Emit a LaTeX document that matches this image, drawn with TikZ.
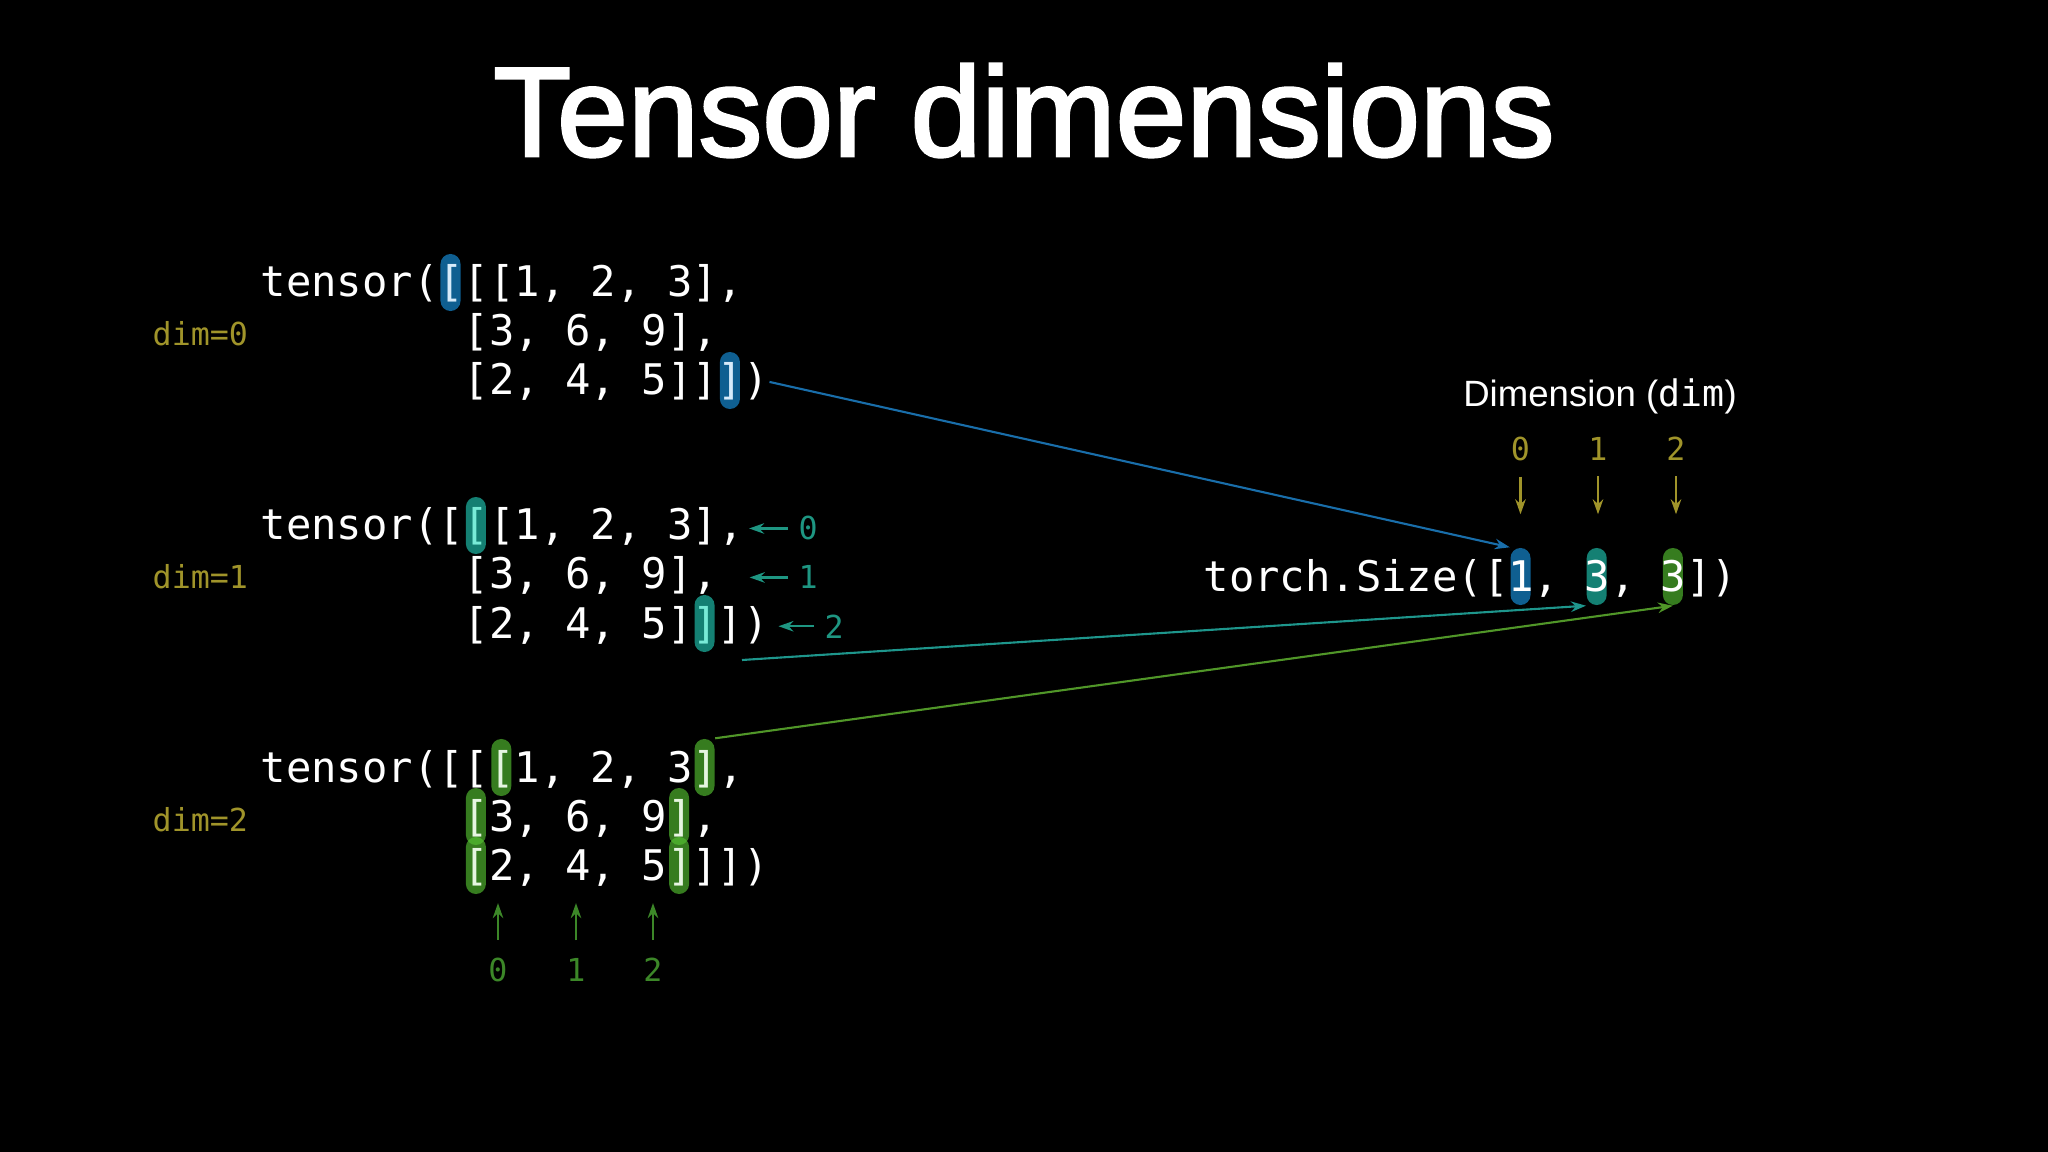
\documentclass[tikz,border=0pt]{standalone}
\usepackage{fontspec}
\usetikzlibrary{arrows.meta}
\newfontfamily\codefont{DejaVu Sans Mono}
\newfontfamily\titlefont{Liberation Sans}[FakeBold=2.2]
\newfontfamily\headfont{Liberation Sans}
\definecolor{olivec}{RGB}{160,148,42}
\definecolor{bluec}{RGB}{15,95,145}
\definecolor{tealc}{RGB}{20,128,115}
\definecolor{greenc}{RGB}{86,195,50}
\definecolor{bluel}{RGB}{25,110,170}
\definecolor{teall}{RGB}{30,150,140}
\definecolor{greenl}{RGB}{80,150,40}
\definecolor{tealt}{RGB}{30,150,130}
\definecolor{greent}{RGB}{60,135,40}
\definecolor{cyant}{RGB}{120,235,215}
\newcommand{\hb}[1]{\textcolor[RGB]{215,235,250}{#1}}
\newcommand{\hc}[1]{\textcolor{cyant}{#1}}
\newcommand{\hg}[1]{\textcolor[RGB]{230,245,225}{#1}}

\begin{document}
\begin{tikzpicture}[x=0.01cm,y=-0.01cm]
	\tikzset{code/.style={font=\codefont\fontsize{12}{14}\selectfont,text=white,inner sep=0,anchor=base west}}
	\tikzset{dimlab/.style={font=\codefont\fontsize{9}{11}\selectfont,text=olivec,inner sep=0,anchor=base west}}
	\tikzset{small/.style={font=\codefont\fontsize{9}{11}\selectfont,inner sep=0.05cm}}
	\tikzset{pill/.style={minimum width=0.2cm,minimum height=0.57cm,rounded corners=0.1cm,inner sep=0}}
	\tikzset{bluepill/.style={pill,fill=bluec}}
	\tikzset{tealpill/.style={pill,fill=tealc}}
	\tikzset{greenpill/.style={pill,fill=greenc,fill opacity=0.64}}
	\tikzset{link/.style={line width=0.6pt,-{Stealth[length=1.5mm,width=1.05mm]}}}

	\fill[black] (0,0) rectangle (2048,1152);
	\useasboundingbox (0,0) rectangle (2048,1152);

	% title
	\node[anchor=base,text=white,inner sep=0,font=\titlefont\fontsize{36.2}{40}\selectfont] (title) at (1024,156) {Tensor dimensions};

	% highlights
	\node[bluepill] (p0) at (450.5,282.5) {};
	\node[bluepill] (p1) at (729.9,380.5) {};
	\node[tealpill] (p2) at (475.9,525.5) {};
	\node[tealpill] (p3) at (704.5,623.5) {};
	\node[greenpill] (p4) at (501.3,767.5) {};
	\node[greenpill] (p5) at (704.5,767.5) {};
	\node[greenpill] (p6) at (475.9,816.5) {};
	\node[greenpill] (p7) at (679.1,816.5) {};
	\node[greenpill] (p8) at (475.9,865.5) {};
	\node[greenpill] (p9) at (679.1,865.5) {};
	\node[bluepill] (q0) at (1520.5,576.5) {};
	\node[tealpill] (q1) at (1596.7,576.5) {};
	\node[greenpill] (q2) at (1672.9,576.5) {};

	% code
	\node[code] (a1) at (260,297) {tensor(\hb{[}[[1, 2, 3],};
	\node[code] (a2) at (463.2,346) {[3, 6, 9],};
	\node[code] (a3) at (463.2,395) {[2, 4, 5]]\hb{]})};
	\node[code] (b1) at (260,540) {tensor([\hc{[}[1, 2, 3],};
	\node[code] (b2) at (463.2,589) {[3, 6, 9],};
	\node[code] (b3) at (463.2,638) {[2, 4, 5]\hc{]}])};
	\node[code] (c1) at (260,782) {tensor([[\hg{[}1, 2, 3\hg{]},};
	\node[code] (c2) at (463.2,831) {\hg{[}3, 6, 9\hg{]},};
	\node[code] (c3) at (463.2,880) {\hg{[}2, 4, 5\hg{]}]])};
	\node[code] (size) at (1203,591) {torch.Size([1, 3, 3])};

	% labels
	\node[dimlab] (k0) at (152,346) {dim=0};
	\node[dimlab] (k1) at (152,589) {dim=1};
	\node[dimlab] (k2) at (152,831) {dim=2};
	\node[small,text=tealt,anchor=base west,inner sep=0.1cm] (r0) at (788,540) {0};
	\node[small,text=tealt,anchor=base west,inner sep=0.1cm] (r1) at (788,589) {1};
	\node[small,text=tealt,anchor=base west,inner sep=0.1cm] (r2) at (814,638) {2};
	\node[small,text=greent] (e0) at (498,970) {0};
	\node[small,text=greent] (e1) at (576,970) {1};
	\node[small,text=greent] (e2) at (653,970) {2};
	\node[anchor=base,text=white,inner sep=0,font=\headfont\fontsize{10.4}{12}\selectfont] (head) at (1600,407) {Dimension ({\codefont dim})};
	\node[small,text=olivec] (d0) at (1520.5,449) {0};
	\node[small,text=olivec] (d1) at (1598,449) {1};
	\node[small,text=olivec] (d2) at (1676,449) {2};

	% arrows
	\draw[link,tealt,shorten >=0.5mm] (r0.west) -- (r0.west -| b1.east);
	\draw[link,tealt,shorten >=3.1mm] (r1.west) -- (r1.west -| b2.east);
	\draw[link,tealt,shorten >=0.9mm] (r2.west) -- (r2.west -| b3.east);
	\draw[link,greent,shorten <=1.25mm,shorten >=1.65mm] (e0.north) -- (e0.north |- c3.south);
	\draw[link,greent,shorten <=1.25mm,shorten >=1.65mm] (e1.north) -- (e1.north |- c3.south);
	\draw[link,greent,shorten <=1.25mm,shorten >=1.65mm] (e2.north) -- (e2.north |- c3.south);
	\draw[link,olivec,shorten <=1mm,shorten >=3.3mm] (d0.south) -- (d0.south |- q0.north);
	\draw[link,olivec,shorten <=1mm,shorten >=3.3mm] (d1.south) -- (d1.south |- q1.north);
	\draw[link,olivec,shorten <=1mm,shorten >=3.3mm] (d2.south) -- (d2.south |- q2.north);

	% connectors
	\coordinate (t2) at (742,660);
	\draw[link,bluel] (a3.east) -- (q0.north west);
	\draw[link,teall] (t2) -- (q1.south west);
	\draw[link,greenl] (p5.north east) -- (q2.south);
\end{tikzpicture}
\end{document}
